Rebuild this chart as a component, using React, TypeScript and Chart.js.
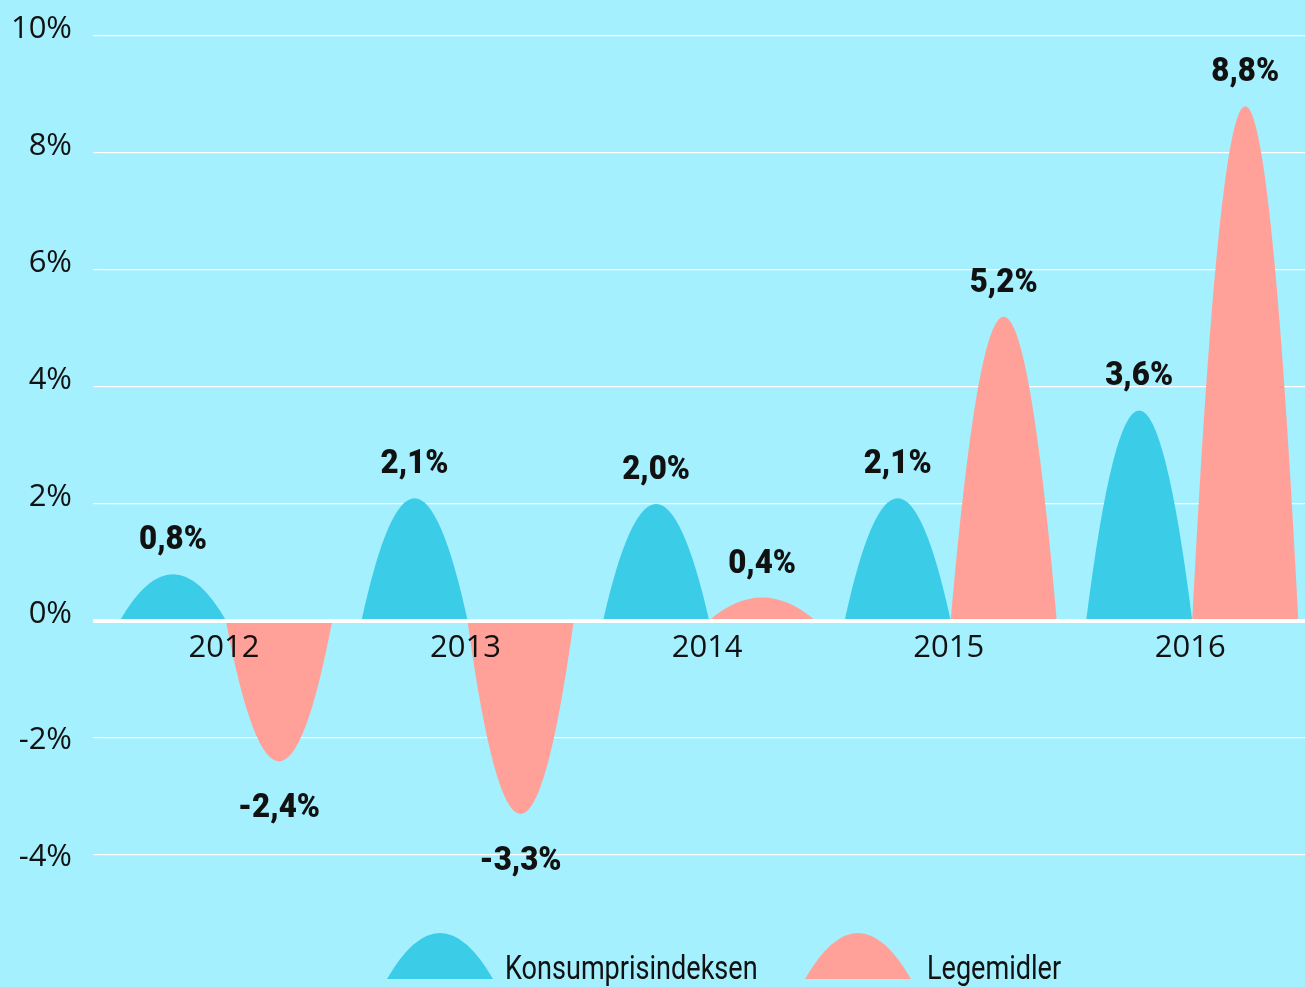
import React, { useEffect, useRef } from "react";
import { Chart, registerables } from "chart.js";

Chart.register(...registerables);

const categories = ["2012", "2013", "2014", "2015", "2016"];
const seriesNames = ["Konsumprisindeksen", "Legemidler"];
const kpiValues = [0.8, 2.1, 2.0, 2.1, 3.6];
const legemidlerValues = [-2.4, -3.3, 0.4, 5.2, 8.8];
const seriesColors = ["#3bcde8", "#ffa198"];

const BG = "#a4f0fe";
const TEXT = "#111111";
const CONDENSED = "Roboto, 'Noto Sans', sans-serif";
const REGULAR = "'Open Sans', 'Noto Sans', sans-serif";

const fmt = (v: number) => v.toFixed(1).replace(".", ",") + "%";

function hump(ctx: CanvasRenderingContext2D, cx: number, width: number, top: number, base: number, color: string) {
  ctx.beginPath();
  ctx.moveTo(cx - width / 2, base);
  ctx.quadraticCurveTo(cx, 2 * top - base, cx + width / 2, base);
  ctx.closePath();
  ctx.fillStyle = color;
  ctx.fill();
}

// draws real text, horizontally condensed by sx
function condensedText(ctx: CanvasRenderingContext2D, text: string, x: number, y: number, sx: number) {
  ctx.save();
  ctx.translate(x, y);
  ctx.scale(sx, 1);
  ctx.fillText(text, 0, 0);
  ctx.restore();
}

const humpPlugin = {
  id: "humps",
  afterDatasetsDraw(chart: any) {
    const ctx: CanvasRenderingContext2D = chart.ctx;
    const ys = chart.scales.y;
    const xs = chart.scales.x;
    const area = chart.chartArea;
    ctx.save();

    // humps
    chart.data.datasets.forEach((ds: any, di: number) => {
      const meta = chart.getDatasetMeta(di);
      meta.data.forEach((bar: any) => {
        const p = bar.getProps(["x", "y", "base", "width"], true);
        hump(ctx, p.x, p.width, p.y, p.base, seriesColors[di]);
      });
    });

    // zero line on top
    const zy = ys.getPixelForValue(0);
    ctx.fillStyle = "#ffffff";
    ctx.fillRect(area.left - 12, zy - 2, area.right - area.left + 12, 4);

    // year labels
    ctx.fillStyle = TEXT;
    ctx.font = `31px ${REGULAR}`;
    ctx.textAlign = "center";
    ctx.textBaseline = "alphabetic";
    categories.forEach((c, i) => {
      ctx.fillText(c, xs.getPixelForValue(i) - 2, zy + 36);
    });

    // y tick labels
    ctx.textAlign = "right";
    ys.ticks.forEach((t: any) => {
      const py = ys.getPixelForValue(t.value);
      ctx.fillText(`${t.value}%`, 72, py + (t.value >= 0 ? 2 : 11));
    });

    // data labels
    ctx.font = `900 34px ${CONDENSED}`;
    ctx.textAlign = "center";
    chart.data.datasets.forEach((ds: any, di: number) => {
      const meta = chart.getDatasetMeta(di);
      meta.data.forEach((bar: any, i: number) => {
        const v = ds.data[i];
        const p = bar.getProps(["x", "y"], true);
        const by = v >= 0 ? p.y - 25 : p.y + 56;
        condensedText(ctx, fmt(v), p.x, by, 0.92);
      });
    });

    // legend
    ctx.font = `33px ${CONDENSED}`;
    ctx.textAlign = "left";
    const starts = [387, 805];
    seriesNames.forEach((name, i) => {
      const sx = starts[i];
      const base = 979;
      hump(ctx, sx + 53, 106, base - 46, base, seriesColors[i]);
      ctx.fillStyle = TEXT;
      condensedText(ctx, name, sx + 118 + (i === 1 ? 4 : 0), base, 0.82);
    });

    ctx.restore();
  },
};

export default function App() {
  const ref = useRef<HTMLCanvasElement | null>(null);

  useEffect(() => {
    document.body.style.margin = "0";
    const canvas = ref.current!;
    const chart = new Chart(canvas, {
      type: "bar",
      data: {
        labels: categories,
        datasets: [
          { label: seriesNames[0], data: kpiValues, backgroundColor: "rgba(0,0,0,0)", borderWidth: 0 },
          { label: seriesNames[1], data: legemidlerValues, backgroundColor: "rgba(0,0,0,0)", borderWidth: 0 },
        ],
      },
      options: {
        responsive: false,
        animation: false,
        devicePixelRatio: 1,
        layout: { padding: { left: 93.25, right: 0, top: 36, bottom: 132 } },
        datasets: { bar: { barPercentage: 1, categoryPercentage: 0.878 } },
        plugins: { legend: { display: false }, tooltip: { enabled: false } },
        scales: {
          x: { display: false, offset: true },
          y: {
            min: -4,
            max: 10,
            ticks: { stepSize: 2, display: false },
            border: { display: false },
            grid: {
              color: "#ffffff",
              lineWidth: 1.2,
              drawTicks: true,
              tickLength: 12,
              tickColor: "#ffffff",
              tickWidth: 1.2,
            },
          },
        },
      },
      plugins: [humpPlugin],
    });
    return () => chart.destroy();
  }, []);

  return (
    <div
      style={{
        position: "absolute",
        left: 0,
        top: 0,
        width: 1305,
        height: 987,
        overflow: "hidden",
        background: BG,
      }}
    >
      <canvas ref={ref} width={1313} height={987} style={{ display: "block" }} />
    </div>
  );
}
